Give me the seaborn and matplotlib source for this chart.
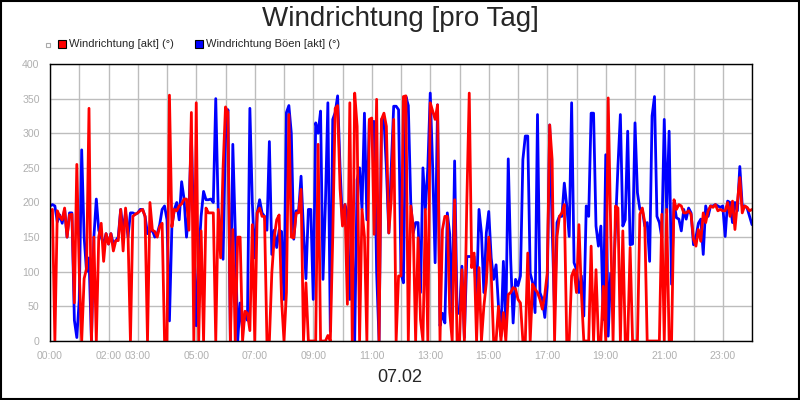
import numpy as np
import pandas as pd
import seaborn as sns
import matplotlib
matplotlib.use('Agg')
import matplotlib.pyplot as plt
from matplotlib.patches import Rectangle

# Wind direction, 5-minute values (one row per hour)
wind_dir = [
    188, 190, 0, 188, 180, 175, 192, 150, 182, 183, 55, 255,
    100, 0, 90, 105, 336, 0, 150, 0, 150, 170, 115, 155,
    140, 155, 130, 145, 145, 190, 130, 192, 155, 0, 180, 183,
    185, 188, 190, 180, 0, 200, 160, 158, 150, 165, 170, 0,
    0, 355, 165, 190, 188, 195, 198, 205, 205, 160, 330, 0,
    344, 0, 159, 0, 192, 185, 185, 185, 0, 190, 120, 250,
    338, 330, 0, 161, 0, 150, 150, 0, 43, 40, 15, 168,
    0, 185, 192, 180, 180, 0, 0, 98, 150, 175, 182, 60,
    0, 70, 327, 150, 149, 185, 185, 219, 0, 84, 0, 0,
    0, 0, 284, 0, 0, 0, 8, 0, 150, 336, 340, 220,
    166, 197, 53, 344, 0, 358, 310, 0, 190, 151, 0, 320,
    322, 154, 349, 0, 320, 329, 310, 156, 204, 320, 0, 94,
    94, 353, 354, 0, 195, 166, 0, 149, 31, 0, 190, 0,
    344, 332, 320, 341, 0, 161, 180, 180, 41, 0, 204, 0,
    0, 103, 0, 200, 358, 106, 127, 0, 106, 0, 50, 84,
    150, 98, 0, 0, 50, 0, 41, 0, 67, 70, 77, 75,
    60, 55, 0, 0, 127, 0, 82, 75, 70, 60, 46, 67,
    98, 312, 262, 0, 151, 180, 185, 197, 0, 0, 94, 103,
    70, 168, 70, 0, 0, 0, 137, 0, 103, 0, 0, 79,
    0, 351, 166, 0, 195, 192, 0, 159, 0, 0, 135, 0,
    0, 0, 183, 192, 171, 0, 0, 0, 0, 0, 0, 183,
    0, 190, 0, 0, 204, 190, 197, 195, 185, 185, 188, 183,
    147, 137, 161, 144, 185, 171, 188, 195, 193, 197, 188, 190,
    188, 188, 200, 180, 202, 161, 200, 236, 185, 195, 193, 188,
    190,
]

# Gust direction
gust_dir = [
    195, 197, 195, 172, 182, 170, 190, 150, 185, 185, 30, 5,
    60, 276, 150, 100, 120, 0, 150, 205, 160, 150, 140, 155,
    140, 155, 140, 145, 150, 190, 160, 185, 150, 185, 185, 183,
    185, 190, 190, 180, 155, 158, 160, 150, 155, 168, 190, 195,
    175, 29, 165, 190, 200, 175, 230, 205, 150, 190, 300, 150,
    22, 120, 180, 216, 204, 204, 205, 200, 350, 190, 160, 118,
    300, 334, 0, 284, 160, 0, 55, 15, 40, 30, 336, 200,
    120, 185, 204, 185, 180, 160, 288, 125, 160, 135, 160, 158,
    60, 330, 340, 300, 147, 188, 188, 238, 160, 90, 190, 190,
    60, 315, 300, 332, 89, 200, 344, 14, 320, 330, 354, 250,
    170, 197, 185, 60, 150, 0, 233, 250, 190, 329, 175, 317,
    317, 317, 100, 0, 320, 320, 250, 156, 250, 339, 339, 334,
    98, 84, 353, 340, 200, 156, 171, 171, 70, 250, 190, 250,
    358, 250, 113, 341, 22, 40, 26, 185, 154, 41, 260, 40,
    40, 108, 5, 122, 122, 122, 122, 62, 190, 156, 70, 156,
    187, 120, 89, 110, 50, 7, 115, 26, 263, 118, 26, 89,
    80, 94, 262, 296, 296, 98, 84, 41, 327, 70, 60, 34,
    79, 312, 166, 41, 171, 180, 180, 228, 195, 151, 344, 113,
    103, 70, 94, 36, 195, 180, 329, 329, 166, 137, 166, 31,
    269, 7, 98, 75, 166, 252, 327, 166, 175, 303, 139, 140,
    315, 214, 190, 190, 166, 171, 115, 325, 353, 180, 171, 149,
    320, 185, 303, 82, 200, 178, 176, 159, 190, 176, 192, 185,
    139, 150, 170, 176, 125, 195, 180, 195, 195, 197, 195, 193,
    195, 151, 202, 200, 171, 200, 188, 252, 195, 195, 192, 180,
    168,
]

labeled_hours = [0, 2, 3, 5, 7, 9, 11, 13, 15, 17, 19, 21, 23]
y_ticks = [0, 50, 100, 150, 200, 250, 300, 350, 400]
title = "Windrichtung [pro Tag]"
date_label = "07.02"
series_labels = ["Windrichtung [akt] (°)", "Windrichtung Böen [akt] (°)"]

sns.set_style("white")
plt.rcParams['font.family'] = ['Liberation Sans', 'DejaVu Sans']

df = pd.DataFrame({
    "hour": np.arange(len(wind_dir)) / 12.0,
    "wind": wind_dir,
    "gust": gust_dir,
})

fig = plt.figure(figsize=(8, 4), dpi=100)
fig.patch.set_facecolor('white')
ax = fig.add_axes([0.0625, 0.1475, 0.8775, 0.6925])

grid_c = '#bdbdbd'
ax.grid(True, color=grid_c, linewidth=1)
ax.set_axisbelow(True)

sns.lineplot(data=df, x="hour", y="gust", color="#0000ff", linewidth=2, ax=ax)
sns.lineplot(data=df, x="hour", y="wind", color="#ff0000", linewidth=2, ax=ax)

ax.set_xlim(0, 24)
ax.set_ylim(0, 400)
ax.set_xticks(range(25))
ax.set_xticklabels([f"{h:02d}:00" if h in labeled_hours else "" for h in range(25)])
ax.set_yticks(y_ticks)
ax.set_yticklabels([str(v) for v in y_ticks])
ax.tick_params(axis='both', colors=grid_c, labelcolor='#b0b0b0', labelsize=7.6,
               length=4, width=1, direction='out')
ax.set_xlabel("")
ax.set_ylabel("")
for sp in ax.spines.values():
    sp.set_color('black')
    sp.set_linewidth(1)

fig.text(0.5, 0.952, title, ha='center', va='center', fontsize=20)
fig.text(0.5, 0.057, date_label, ha='center', va='center', fontsize=13)

# legend drawn by hand, like the original image
fig.patches.append(Rectangle((45.5 / 800, 1 - 47 / 400), 4 / 800, 4 / 400,
                             transform=fig.transFigure, facecolor='white',
                             edgecolor='#aaaaaa', linewidth=0.8))
legend_items = [(58, "#ff0000", series_labels[0]), (195, "#0000ff", series_labels[1])]
for x0, col, lab in legend_items:
    fig.patches.append(Rectangle((x0 / 800, 1 - 48 / 400), 8 / 800, 8 / 400,
                                 transform=fig.transFigure, facecolor=col,
                                 edgecolor='black', linewidth=0.8))
    fig.text((x0 + 11) / 800, 1 - 44 / 400, lab, ha='left', va='center', fontsize=8)

# outer frame
fig.patches.append(Rectangle((0.0008, 0.0015), 0.998, 0.997, transform=fig.transFigure,
                             fill=False, edgecolor='black', linewidth=1.5))

fig.savefig("out.png", dpi=100)
